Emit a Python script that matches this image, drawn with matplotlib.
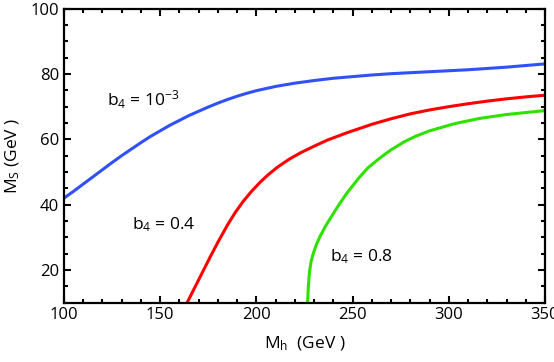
import matplotlib
matplotlib.use("Agg")
import matplotlib.pyplot as plt
from matplotlib.ticker import MultipleLocator

plt.rcParams['font.family'] = ['Open Sans', 'DejaVu Sans']
plt.rcParams['mathtext.default'] = 'regular'

blue_x = [100, 105, 110, 115, 120, 125, 130, 135, 140, 145, 150, 155, 160, 165, 170, 175, 180, 185, 190, 195,
          200, 210, 220, 230, 240, 250, 260, 270, 280, 290, 300, 310, 320, 330, 340, 350]
blue_y = [42, 44.1, 46.3, 48.5, 50.7, 52.9, 55, 57, 59, 60.9, 62.6, 64.3, 65.8, 67.3, 68.6, 69.9, 71.1, 72.2, 73.2, 74.1,
          74.9, 76.2, 77.2, 78, 78.7, 79.2, 79.7, 80.1, 80.4, 80.7, 81, 81.3, 81.7, 82.1, 82.6, 83.1]

red_x = [164, 167, 170, 173, 176, 180, 185, 189, 193, 197.5, 202, 206, 211, 217, 223, 230, 237, 247, 260, 270,
         280, 290, 300, 310, 320, 330, 340, 350]
red_y = [10, 13.5, 17, 20.5, 24, 28.5, 33.8, 37.6, 40.9, 44.1, 46.9, 49.1, 51.5, 53.9, 55.9, 57.9, 59.8, 62, 64.6, 66.3,
         67.8, 69, 70, 70.9, 71.7, 72.4, 73, 73.5]

green_x = [226.6, 227, 227.6, 228.5, 229.6, 231.2, 233, 236, 240, 243.5, 247, 253, 258, 264, 270, 277, 283, 290,
           303, 316, 330, 340, 350]
green_y = [10, 15, 19.5, 22.8, 25.1, 27.8, 30.2, 33.5, 37.3, 40.5, 43.5, 48, 51.3, 54.2, 56.8, 59.3, 61, 62.6,
           64.8, 66.4, 67.6, 68.2, 68.8]

labels = ["b$_4$ = 10$^{-3}$", "b$_4$ = 0.4", "b$_4$ = 0.8"]

fig = plt.figure(figsize=(5.54, 3.62), dpi=100)
ax = fig.add_axes([0.1155, 0.164, 0.8683, 0.812])

ax.plot(blue_x, blue_y, color='#3050f8', lw=2.2)
ax.plot(red_x, red_y, color='#ff0000', lw=2.2)
ax.plot(green_x, green_y, color='#30e000', lw=2.2)

ax.text(122.5, 72, labels[0], fontsize=12.5, va='center', ha='left')
ax.text(135.5, 33.8, labels[1], fontsize=12.5, va='center', ha='left')
ax.text(238.5, 24, labels[2], fontsize=12.5, va='center', ha='left')

ax.set_xlim(100, 350)
ax.set_ylim(10, 100)
ax.xaxis.set_major_locator(MultipleLocator(50))
ax.xaxis.set_minor_locator(MultipleLocator(10))
ax.yaxis.set_major_locator(MultipleLocator(20))
ax.yaxis.set_minor_locator(MultipleLocator(5))
ax.tick_params(which='both', direction='in', top=True, right=True, width=1.5, labelsize=12)
ax.tick_params(which='major', length=5)
ax.tick_params(which='minor', length=3)
for s in ax.spines.values():
    s.set_linewidth(1.6)

ax.set_xlabel("M$_h$  (GeV )", fontsize=12.5, labelpad=8)
ax.set_ylabel("M$_S$ (GeV )", fontsize=12.5, labelpad=6)

fig.savefig("out.png", dpi=100)
